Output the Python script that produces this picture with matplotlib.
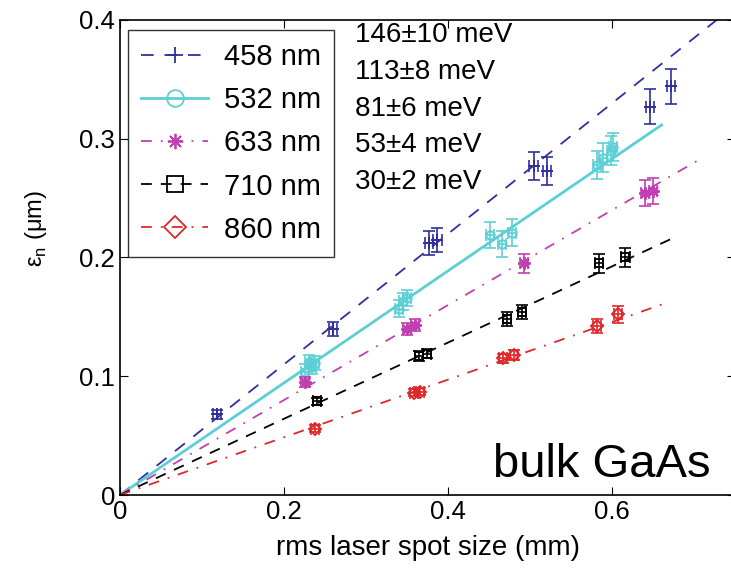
import numpy as np
from matplotlib import pyplot as plt
from matplotlib.lines import Line2D

plt.rcParams['font.family'] = ['Liberation Sans', 'DejaVu Sans']

# wavelengths / legend
labels = ['458 nm', '532 nm', '633 nm', '710 nm', '860 nm']
energies = ['146\u00b110 meV', '113\u00b18 meV', '81\u00b16 meV', '53\u00b14 meV', '30\u00b12 meV']

# data: spot size (mm), emittance (um), y-error
x458 = [0.118, 0.260, 0.377, 0.387, 0.504, 0.520, 0.646, 0.672]
y458 = [0.068, 0.140, 0.212, 0.215, 0.277, 0.273, 0.327, 0.344]
e458 = [0.004, 0.006, 0.010, 0.010, 0.012, 0.012, 0.015, 0.015]

x532 = [0.226, 0.230, 0.234, 0.238, 0.340, 0.345, 0.350, 0.451, 0.466, 0.478, 0.581, 0.589, 0.598, 0.601]
y532 = [0.104, 0.112, 0.108, 0.111, 0.157, 0.163, 0.166, 0.219, 0.211, 0.221, 0.278, 0.284, 0.290, 0.293]
e532 = [0.006, 0.006, 0.006, 0.006, 0.007, 0.007, 0.007, 0.011, 0.011, 0.011, 0.012, 0.012, 0.012, 0.012]

x633 = [0.226, 0.350, 0.360, 0.492, 0.640, 0.650]
y633 = [0.095, 0.140, 0.143, 0.195, 0.254, 0.256]
e633 = [0.004, 0.005, 0.005, 0.008, 0.011, 0.011]

x710 = [0.240, 0.364, 0.374, 0.472, 0.490, 0.584, 0.616]
y710 = [0.079, 0.117, 0.119, 0.148, 0.154, 0.195, 0.200]
e710 = [0.003, 0.004, 0.004, 0.006, 0.006, 0.008, 0.008]

x860 = [0.238, 0.358, 0.366, 0.467, 0.480, 0.581, 0.607]
y860 = [0.056, 0.086, 0.087, 0.115, 0.118, 0.142, 0.152]
e860 = [0.003, 0.003, 0.003, 0.004, 0.004, 0.006, 0.007]

# linear fits through origin: slope and end of fit line
slopes = [0.55, 0.472, 0.40, 0.321, 0.243]
fit_end = [0.76, 0.66, 0.71, 0.677, 0.668]

colors = ['#2f2f9f', '#5ccfd6', '#c23fb2', 'black', '#e0262a']
markers = ['+', 'o', (8, 2, 0), 's', 'D']
dashes = [(7, 6), None, (6, 5, 1, 5), (6, 5), (6, 5, 1, 5)]

xs = [x458, x532, x633, x710, x860]
ys = [y458, y532, y633, y710, y860]
es = [e458, e532, e633, e710, e860]

fig = plt.figure(figsize=(7.31, 5.69), dpi=100)
ax = fig.add_axes([0.164, 0.130, 0.842, 0.835])

handles = []
for i in range(5):
    xf = np.array([0, fit_end[i]])
    ln, = ax.plot(xf, slopes[i] * xf, color=colors[i], lw=1.3 if i != 1 else 2.0)
    if dashes[i] is not None:
        ln.set_dashes(dashes[i])
    ms = 9 if i in [0, 2] else 6
    ax.errorbar(xs[i], ys[i], yerr=es[i], xerr=0.005, fmt='none', ecolor=colors[i],
                capsize=4, elinewidth=1.2, capthick=1.2)
    ax.plot(xs[i], ys[i], linestyle='none', marker=markers[i], color=colors[i],
            mfc='none', ms=ms, mew=1.4)
    h = Line2D([0], [0], color=colors[i], lw=1.3 if i != 1 else 2.0, marker=markers[i],
               ms=12 if i == 1 else 11, mfc='none', mew=1.3)
    if dashes[i] is not None:
        h.set_dashes(dashes[i])
    handles.append(h)

leg = ax.legend(handles, labels, loc='upper left', bbox_to_anchor=(0.013, 0.979),
                borderaxespad=0, fontsize=21, frameon=True, fancybox=False,
                edgecolor='black', handlelength=2.3, handletextpad=0.55,
                borderpad=0.45, labelspacing=0.52)
leg.get_frame().set_linewidth(1.0)

for j, t in enumerate(energies):
    ax.text(0.287, 0.387 - j * 0.0309, t, fontsize=20, va='center', ha='left')

ax.text(0.72, 0.025, 'bulk GaAs', fontsize=34, ha='right', va='center')

ax.set_xlim(0, 0.75)
ax.set_ylim(0, 0.4)
ax.set_xticks([0, 0.2, 0.4, 0.6])
ax.set_xticklabels(['0', '0.2', '0.4', '0.6'])
ax.set_yticks([0, 0.1, 0.2, 0.3, 0.4])
ax.set_yticklabels(['0', '0.1', '0.2', '0.3', '0.4'])
ax.tick_params(direction='in', top=True, right=True, labelsize=18.5, length=6)
for s in ax.spines.values():
    s.set_linewidth(1.2)

ax.set_xlabel('rms laser spot size (mm)', fontsize=20, labelpad=8)
ax.set_ylabel('\u03b5$_\\mathregular{n}$ (\u03bcm)', fontsize=17)
ax.yaxis.set_label_coords(-0.115, 0.56)

fig.savefig('out.png', dpi=100)
